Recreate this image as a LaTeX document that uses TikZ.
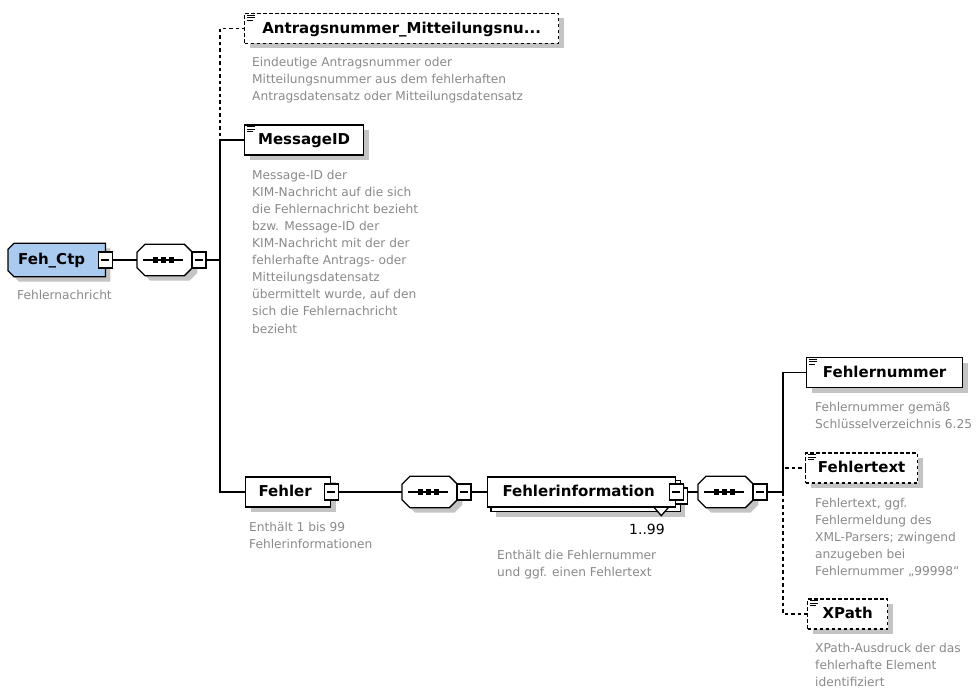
\documentclass[tikz,border=0pt]{standalone}
\usepackage{fontspec}
\setmainfont{DejaVu Sans}
\usetikzlibrary{shadows}
\definecolor{shadowgray}{RGB}{196,196,196}
\definecolor{descgray}{RGB}{138,138,138}
\definecolor{rootblue}{RGB}{170,202,240}
\newcommand\xttl{\fontsize{15}{18}\selectfont\bfseries}
\newcommand\xdsc{\fontsize{12.2}{17.1}\selectfont}
\pgfdeclarelayer{bg}
\pgfsetlayers{bg,main}
\tikzset{
  shd/.style={drop shadow={shadow xshift=5pt,shadow yshift=-5pt,fill=shadowgray,opacity=1}},
  elem/.style={shape=rectangle, draw=black, fill=white, line width=1.3pt, anchor=west,
    minimum height=30pt, inner xsep=0pt, inner ysep=0pt, text height=11pt, text depth=1.5pt, font=\xttl},
  optelem/.style={elem, dash pattern=on 3.5pt off 2.5pt},
  hidbox/.style={shape=rectangle, draw=none, inner sep=0pt, anchor=west},
  desc/.style={anchor=north west, yshift=9.3pt, inner sep=0pt, align=left, text=descgray, font=\xdsc},
  conn/.style={line width=1.3pt},
  optconn/.style={line width=1.3pt, dash pattern=on 3.5pt off 3pt},
  minusbox/.style={shape=rectangle, draw=black, fill=white, line width=1.1pt, minimum width=14pt,
    minimum height=16pt, inner sep=0pt,
    path picture={\draw[line width=1.1pt] ([xshift=3pt]path picture bounding box.west) -- ([xshift=-3pt]path picture bounding box.east);}},
  icon/.style={line width=0.8pt},
}
\newcommand\xicon[1]{%
  \draw[icon] ([shift={(3pt,-2.5pt)}]#1.north west) -- ++(8pt,0pt);
  \draw[icon] ([shift={(3pt,-5pt)}]#1.north west) -- ++(8pt,0pt);
  \draw[icon] ([shift={(3pt,-7.5pt)}]#1.north west) -- ++(6pt,0pt);
}
\newcommand\xseq[3]{%
  \node[hidbox, minimum width=55pt, minimum height=31pt] (#1) at (#2,#3) {};
  \begin{pgfonlayer}{bg}
  \draw[line width=1.3pt, fill=white, shd] ([xshift=8pt]#1.north west) -- ([xshift=-8pt]#1.north east)
    -- ([yshift=-8pt]#1.north east) -- ([yshift=8pt]#1.south east) -- ([xshift=-8pt]#1.south east)
    -- ([xshift=8pt]#1.south west) -- ([yshift=8pt]#1.south west) -- ([yshift=-8pt]#1.north west) -- cycle;
  \draw[line width=1.3pt] ([xshift=6pt]#1.west) -- ([xshift=-9pt]#1.east);
  \foreach \dx in {-9.5,-1.5,6.5} \fill ([xshift=\dx pt]#1.center) +(-2.6pt,-2.6pt) rectangle +(2.6pt,2.6pt);
  \end{pgfonlayer}
  \node[minusbox, anchor=west] (#1m) at ([xshift=-1pt]#1.east) {};
}
\begin{document}
\begin{tikzpicture}[x=1pt,y=-1pt]
\begin{pgfonlayer}{bg}
\fill[white] (0,0) rectangle (978,695);
\end{pgfonlayer}
\useasboundingbox (0,0) rectangle (978,695);

% root element
\node[hidbox, minimum width=97pt, minimum height=33pt, text height=11pt, text depth=1.5pt, font=\xttl] (root) at (8,260) {\hspace{-10pt}Feh\_Ctp};
\begin{pgfonlayer}{bg}
\draw[line width=1.3pt, fill=rootblue, shd] ([xshift=6pt]root.north west) -- (root.north east) -- (root.south east)
  -- ([xshift=6pt]root.south west) -- ([yshift=6pt]root.south west) -- ([yshift=-6pt]root.north west) -- cycle;
\end{pgfonlayer}
\node[minusbox] (rootm) at (root.east) {};
\node[desc] (droot) at (17,299) {Fehlernachricht};

% sequences
\xseq{s1}{137}{260}
\xseq{s2}{402}{492}
\xseq{s3}{698}{492}

% first level children
\node[optelem, shd, minimum width=314pt] (antr) at (244,28.5) {Antragsnummer\_Mitteilungsnu...};
\xicon{antr}
\node[desc] (dantr) at (252,66) {Eindeutige Antragsnummer oder\\Mitteilungsnummer aus dem fehlerhaften\\Antragsdatensatz oder Mitteilungsdatensatz};

\node[elem, shd, minimum width=119pt] (msg) at (244,140) {MessageID};
\xicon{msg}
\node[desc] (dmsg) at (252,179) {Message-ID der\\KIM-Nachricht auf die sich\\die Fehlernachricht bezieht\\bzw. Message-ID der\\KIM-Nachricht mit der der\\fehlerhafte Antrags- oder\\Mitteilungsdatensatz\\übermittelt wurde, auf den\\sich die Fehlernachricht\\bezieht};

\node[elem, shd, minimum width=85pt] (fehler) at (245,492) {\hspace{-6pt}Fehler};
\node[minusbox] (fehlerm) at (fehler.east) {};
\node[desc] (dfehler) at (249,531) {Enthält 1 bis 99\\Fehlerinformationen};

% Fehlerinformation (repeated element)
\node[elem, minimum width=188pt] (fi) at (487,492) {\hspace{-6pt}Fehlerinformation};
\begin{pgfonlayer}{bg}
\draw[line width=1.3pt, fill=white, shd] ([shift={(4pt,-4pt)}]fi.north west) rectangle ([shift={(4pt,-4pt)}]fi.south east);
\node[minusbox] (fimb) at ([shift={(4pt,-4pt)}]fi.east) {};
\draw[line width=1.3pt, fill=white] ([xshift=-22pt]fi.south east) -- ([shift={(-15pt,-8pt)}]fi.south east) -- ([xshift=-8pt]fi.south east);
\end{pgfonlayer}
\node[minusbox] (fim) at (fi.east) {};
\node[anchor=base east, inner sep=0pt, font=\fontsize{14}{16}\selectfont] (mult) at (665,534) {1..99};
\node[desc] (dfi) at (497,559) {Enthält die Fehlernummer\\und ggf. einen Fehlertext};

% second level children
\node[elem, shd, minimum width=156pt] (fnum) at (806,372.5) {Fehlernummer};
\xicon{fnum}
\node[desc] (dfnum) at (815,411) {Fehlernummer gemäß\\Schlüsselverzeichnis 6.25};

\node[optelem, shd, minimum width=112pt] (ftxt) at (805,468) {Fehlertext};
\xicon{ftxt}
\node[desc] (dftxt) at (815,507) {Fehlertext, ggf.\\Fehlermeldung des\\XML-Parsers; zwingend\\anzugeben bei\\Fehlernummer „99998“};

\node[optelem, shd, minimum width=80pt] (xp) at (807,614) {XPath};
\xicon{xp}
\node[desc] (dxp) at (815,652) {XPath-Ausdruck der das\\fehlerhafte Element\\identifiziert};

% connectors
\coordinate (j1) at (220,260);
\coordinate (j3) at (783,492);
\draw[conn] (rootm.east) -- (s1.west);
\draw[conn] (s1m.east) -- (j1);
\draw[optconn] (j1) |- (antr.west);
\draw[conn] (j1) |- (msg.west);
\draw[conn] (j1) |- (fehler.west);
\draw[conn] (fehlerm.east) -- (s2.west);
\draw[conn] (s2m.east) -- (fi.west);
\draw[conn] (fimb.east |- fim.east) -- (s3.west);
\draw[conn] (s3m.east) -- (j3);
\draw[optconn] (j3) |- (ftxt.west);
\draw[optconn] (j3) |- (xp.west);
\draw[conn] (j3) |- (fnum.west);
\end{tikzpicture}
\end{document}
